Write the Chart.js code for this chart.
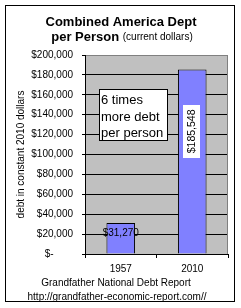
<!DOCTYPE html>
<html><head><meta charset="utf-8">
<script src="https://cdn.jsdelivr.net/npm/chart.js@4/dist/chart.umd.min.js"></script>
<style>html,body{margin:0;padding:0;background:#fff}#wrap{width:241px;height:308px;position:relative}</style>
</head><body><div id="wrap"><canvas id="c" width="241" height="308"></canvas></div>
<script>
// ---- data ----
const categories = ['1957', '2010'];
const debtPerPerson = [31270, 185548];
const valueLabels = ['$31,270', '$185,548'];
const yTickValues = [0, 20000, 40000, 60000, 80000, 100000, 120000, 140000, 160000, 180000, 200000];
const yTickLabels = ['$-       ', '$20,000', '$40,000', '$60,000', '$80,000', '$100,000', '$120,000', '$140,000', '$160,000', '$180,000', '$200,000'];
const titleLine1 = 'Combined America Dept';
const titleLine2Bold = 'per Person';
const titleLine2Normal = '(current dollars)';
const yAxisTitle = 'debt in constant 2010 dollars';
const noteLines = ['6 times', 'more debt', 'per person'];
const footerLines = ['Grandfather National Debt Report', 'http://grandfather-economic-report.com//'];

// ---- styles ----
const FONT = "'Liberation Sans', Arial, sans-serif";
const BAR_COLOR = '#8080ff';
const PLOT_BG = '#c0c0c0';

const decor = {
  id: 'decor',
  beforeDraw(chart) {
    const {ctx, chartArea: a} = chart;
    ctx.save();
    ctx.fillStyle = '#fff';
    ctx.fillRect(0, 0, chart.width, chart.height);
    ctx.fillStyle = PLOT_BG;
    ctx.fillRect(a.left, a.top, a.right - a.left, a.bottom - a.top);
    ctx.restore();
  },
  beforeDatasetsDraw(chart) {
    const {ctx, chartArea: a} = chart;
    ctx.save();
    ctx.strokeStyle = '#808080';
    ctx.lineWidth = 1;
    ctx.beginPath();
    ctx.moveTo(Math.round(a.right) - 0.5, a.top);
    ctx.lineTo(Math.round(a.right) - 0.5, a.bottom);
    ctx.stroke();
    ctx.restore();
  },
  afterDatasetsDraw(chart) {
    const {ctx, chartArea: a} = chart;
    const meta = chart.getDatasetMeta(0);
    ctx.save();
    // value label 1957 (horizontal, near bar top)
    const b0 = meta.data[0];
    ctx.fillStyle = '#000';
    ctx.font = '10px ' + FONT;
    ctx.textAlign = 'center';
    ctx.textBaseline = 'middle';
    ctx.fillText(valueLabels[0], b0.x, b0.y + 10);
    // value label 2010 (rotated, white box)
    const b1 = meta.data[1];
    const cy = b1.y + 62;
    ctx.fillStyle = '#fff';
    ctx.fillRect(Math.round(b1.x) - 9, Math.round(cy) - 26, 17, 53);
    ctx.save();
    ctx.translate(b1.x, cy);
    ctx.rotate(-Math.PI / 2);
    ctx.fillStyle = '#000';
    ctx.font = '10.5px ' + FONT;
    ctx.fillText(valueLabels[1], 0, 0);
    ctx.restore();
    // note box
    const bx = a.left + 14, by = a.top + 34, bw = 69, bh = 52;
    ctx.fillStyle = '#fff';
    ctx.fillRect(bx, by, bw, bh);
    ctx.strokeStyle = '#000';
    ctx.lineWidth = 1;
    ctx.strokeRect(bx + 0.5, by + 0.5, bw - 1, bh - 1);
    ctx.fillStyle = '#000';
    ctx.font = '13px ' + FONT;
    ctx.textAlign = 'left';
    ctx.textBaseline = 'middle';
    noteLines.forEach((t, i) => ctx.fillText(t, bx + 2, by + 11.5 + i * 16.5));
    ctx.restore();
  },
  afterDraw(chart) {
    const {ctx} = chart;
    ctx.save();
    // frame
    ctx.strokeStyle = '#000';
    ctx.lineWidth = 1;
    ctx.strokeRect(5.5, 5.5, 229, 296);
    // title
    ctx.fillStyle = '#000';
    ctx.textBaseline = 'alphabetic';
    ctx.textAlign = 'center';
    ctx.font = 'bold 13px ' + FONT;
    ctx.fillText(titleLine1, 121, 26);
    const boldF = 'bold 13px ' + FONT, normF = '10px ' + FONT;
    ctx.font = boldF;
    const w1 = ctx.measureText(titleLine2Bold + ' ').width;
    ctx.font = normF;
    const w2 = ctx.measureText(titleLine2Normal).width;
    let x0 = 122 - (w1 + w2) / 2;
    ctx.textAlign = 'left';
    ctx.font = boldF;
    ctx.fillText(titleLine2Bold + ' ', x0, 41);
    ctx.font = normF;
    ctx.fillText(titleLine2Normal, x0 + w1, 40);
    // footer
    ctx.textAlign = 'center';
    ctx.textBaseline = 'middle';
    ctx.font = '10px ' + FONT;
    ctx.fillText(footerLines[0], 116, 283);
    ctx.fillText(footerLines[1], 117, 297);
    ctx.restore();
  }
};

new Chart(document.getElementById('c'), {
  type: 'bar',
  data: {
    labels: categories,
    datasets: [{
      data: debtPerPerson,
      backgroundColor: BAR_COLOR,
      borderColor: '#000',
      borderWidth: 1,
      barPercentage: 0.4,
      categoryPercentage: 1
    }]
  },
  options: {
    responsive: false,
    devicePixelRatio: 1,
    animation: false,
    layout: {padding: {left: 5, right: 13, top: 55, bottom: 34}},
    plugins: {legend: {display: false}, tooltip: {enabled: false}, title: {display: false}},
    scales: {
      x: {
        grid: {display: true, drawOnChartArea: false, drawTicks: true, tickLength: 4, color: '#000', offset: true},
        border: {display: true, color: '#000', width: 1},
        ticks: {font: {family: FONT, size: 10}, color: '#000', padding: 5},
        afterFit(s) { s.height = 20; }
      },
      y: {
        min: 0, max: 200000,
        afterBuildTicks(s) { s.ticks = yTickValues.map(v => ({value: v})); },
        ticks: {
          font: {family: FONT, size: 10}, color: '#000', padding: 9,
          callback: (v) => yTickLabels[yTickValues.indexOf(v)]
        },
        grid: {
          color: (c) => (c.tick && c.tick.value === 200000) ? '#808080' : '#000',
          tickColor: '#000', tickLength: 3, lineWidth: 1
        },
        border: {display: true, color: '#000', width: 1},
        title: {display: true, text: yAxisTitle, font: {family: FONT, size: 10}, color: '#000', padding: {top: 10.5, bottom: 0}},
        afterFit(s) { s.width = 80; }
      }
    }
  },
  plugins: [decor]
});
</script>
</body></html>
